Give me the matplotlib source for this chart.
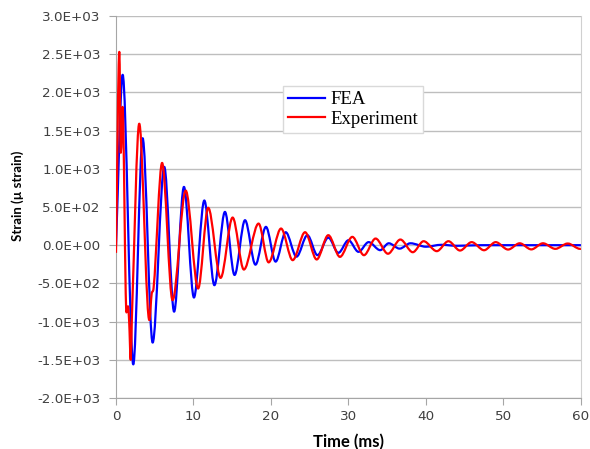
import numpy as np
import matplotlib
matplotlib.use("Agg")
import matplotlib.pyplot as plt
from matplotlib.path import Path
from matplotlib.patches import PathPatch
from matplotlib.lines import Line2D
from matplotlib.ticker import FuncFormatter, MultipleLocator

# Turning points (time in ms, strain in micro strain)
fea_t = [0.0, 0.86, 2.23, 3.44, 4.73, 6.23, 7.5, 8.77, 10.06, 11.4, 12.7,
         14.06, 15.3, 16.65, 18.0, 19.35, 20.6, 21.9, 23.3, 24.7, 26.0, 27.4,
         28.7, 30.0, 31.3, 32.6, 34.1, 35.2, 36.6, 38.0, 40.0, 42.0, 44.0,
         47.0, 60.0]
fea_v = [0, 2230, -1560, 1400, -1275, 1025, -870, 763, -685, 585, -524,
         436, -390, 327, -255, 240, -215, 170, -150, 131, -131, 100,
         -100, 65, -87, 40, -65, 25, -45, 25, -20, 5, -8,
         0, 0]

exp_t = [0.0, 0.43, 0.62, 0.85, 1.35, 1.55, 1.7, 1.9, 2.05, 3.0, 3.25,
         4.3, 4.6, 4.85, 5.95, 7.3, 9.0, 10.6, 11.9, 13.5, 15.05, 16.5,
         18.4, 19.7, 21.3, 22.8, 24.4, 25.9, 27.4, 28.9, 30.5, 32.0, 33.5,
         35.1, 36.7, 38.3, 39.7, 41.4, 42.9, 44.4, 45.9, 47.5, 49.0, 50.6,
         52.1, 53.6, 55.1, 56.7, 58.3, 59.9, 60.0]
exp_v = [-100, 2530, 1210, 1810, -880, -800, -1000, -1500, -950, 1590, 1330,
         -980, -640, -560, 1077, -720, 715, -567, 490, -428, 362, -319,
         283, -225, 218, -196, 170, -187, 131, -153, 109, -131, 87,
         -112, 74, -92, 52, -78, 52, -70, 40, -66, 40, -57,
         25, -55, 25, -48, 22, -48, -47]

x_ticks = [0, 10, 20, 30, 40, 50, 60]


def smooth_path(t, v):
    # Bezier curve through the points, flat at turning points (like Excel's smoothed line)
    t = np.asarray(t, float)
    v = np.asarray(v, float)
    n = len(t)
    sec = np.diff(v) / np.diff(t)
    m = np.zeros(n)
    m[0] = sec[0]
    m[-1] = sec[-1]
    for i in range(1, n - 1):
        if sec[i - 1] * sec[i] <= 0:
            m[i] = 0.0
        else:
            s = (v[i + 1] - v[i - 1]) / (t[i + 1] - t[i - 1])
            lim = 3 * min(abs(sec[i - 1]), abs(sec[i]))
            m[i] = np.sign(s) * min(abs(s), lim)
    verts = [(t[0], v[0])]
    codes = [Path.MOVETO]
    for i in range(n - 1):
        h = t[i + 1] - t[i]
        verts += [(t[i] + h / 3, v[i] + m[i] * h / 3),
                  (t[i + 1] - h / 3, v[i + 1] - m[i + 1] * h / 3),
                  (t[i + 1], v[i + 1])]
        codes += [Path.CURVE4] * 3
    return Path(verts, codes)


fig = plt.figure(figsize=(5.9, 4.49), dpi=100)
ax = fig.add_axes([0.1966, 0.1136, 0.788, 0.8508])

ax.add_patch(PathPatch(smooth_path(fea_t, fea_v), fill=False,
                       edgecolor='#0000FF', lw=1.6, joinstyle='round', zorder=3))
ax.add_patch(PathPatch(smooth_path(exp_t, exp_v), fill=False,
                       edgecolor='#FF0000', lw=1.6, joinstyle='round', zorder=4))

ax.set_xlim(0, 60)
ax.set_ylim(-2000, 3000)
ax.set_xticks(x_ticks)
ax.yaxis.set_major_locator(MultipleLocator(500))
ax.yaxis.set_major_formatter(FuncFormatter(lambda y, p: '{:.1E}'.format(y)))

ax.grid(axis='y', color='#BEBEBE', lw=1)
ax.set_axisbelow(True)
for side in ['left', 'bottom']:
    ax.spines[side].set_color('#A6A6A6')
ax.spines['right'].set_color('#D0D0D0')
ax.spines['top'].set_visible(False)

ax.tick_params(axis='both', direction='out', length=5, color='#A6A6A6',
               labelsize=9.7, labelcolor='#404040')
ax.tick_params(axis='y', pad=6)
ax.tick_params(axis='x', pad=4)
for lab in ax.get_xticklabels() + ax.get_yticklabels():
    lab.set_family('DejaVu Sans')

ax.set_xlabel('Time (ms)', family='Lato', fontweight='bold', fontsize=12)
ax.set_ylabel('Strain (\u00b5 strain)', family='Lato', fontweight='bold', fontsize=9.5)
ax.xaxis.set_label_coords(0.5, -0.093)
ax.yaxis.set_label_coords(-0.197, 0.53)

handles = [Line2D([], [], color='#0000FF', lw=1.6, label='FEA'),
           Line2D([], [], color='#FF0000', lw=1.6, label='Experiment')]
leg = ax.legend(handles=handles, loc='upper left', bbox_to_anchor=(0.359, 0.816),
                borderaxespad=0, fancybox=False, framealpha=1, edgecolor='#D9D9D9',
                prop={'family': 'Liberation Serif', 'size': 13.5},
                handlelength=2.0, handletextpad=0.3, labelspacing=0.15,
                borderpad=0.25)
leg.get_frame().set_linewidth(1)

fig.savefig('out.png', dpi=100, facecolor='white')
